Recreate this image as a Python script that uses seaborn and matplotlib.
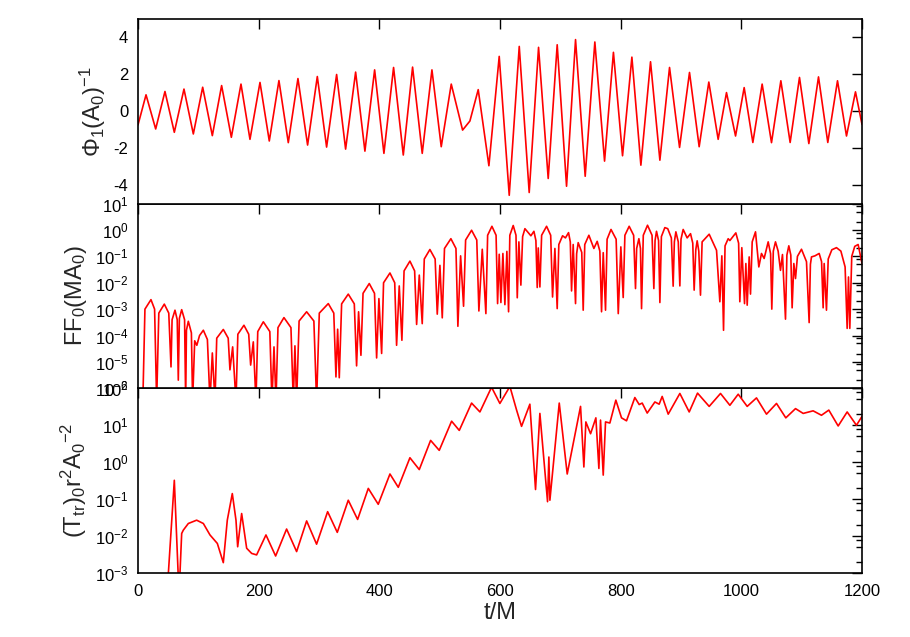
import matplotlib
matplotlib.use("Agg")
import matplotlib.pyplot as plt
import seaborn as sns
import numpy as np
from matplotlib.ticker import LogLocator, NullFormatter, FixedLocator

# Panel 1: Phi_1 (A_0)^-1, extrema
phi_t = [0, 13.3, 29.3, 44.7, 60.2, 76.2, 91.7, 107.2, 123.2, 138.6,
         154.7, 170.7, 185.6, 202.2, 217.6, 233.6, 249.1, 265.1, 281.1, 297.2,
         312.6, 329.2, 344.1, 360.7, 376.1, 392.2, 407.6, 423.6, 439.7, 455.1,
         471.1, 487.2, 502.6, 519.2, 538.0, 550.1, 563.9, 581.6, 598.7, 615.3,
         631.9, 648.4, 663.9, 679.9, 694.8, 710.3, 725.2, 741.2, 757.2, 773.3,
         788.0, 803.1, 818.6, 833.5, 849.5, 865.0, 881.0, 897.6, 914.1, 930.1,
         946.1, 961.6, 975.4, 990.4, 1004.7, 1019.1, 1034.5, 1050.0, 1065.5, 1080.9,
         1096.4, 1111.9, 1127.9, 1143.3, 1159.4, 1174.3, 1189.2, 1200]
phi_v = [-0.74, 0.89, -0.96, 1.07, -1.14, 1.20, -1.23, 1.30, -1.32, 1.39,
         -1.41, 1.47, -1.52, 1.56, -1.61, 1.66, -1.70, 1.77, -1.83, 1.88,
         -1.94, 1.99, -2.05, 2.12, -2.16, 2.24, -2.28, 2.37, -2.37, 2.39,
         -2.28, 2.24, -1.92, 1.47, -1.02, -0.53, 1.17, -2.95, 2.97, -4.55,
         3.51, -4.40, 3.46, -3.64, 3.60, -4.06, 3.88, -3.52, 3.75, -2.70,
         3.19, -2.41, 2.93, -2.92, 2.68, -2.65, 2.37, -1.96, 2.10, -1.92,
         1.58, -1.52, 1.01, -1.34, 1.28, -1.69, 1.47, -1.70, 1.65, -1.69,
         1.83, -1.75, 1.86, -1.69, 1.65, -1.34, 1.05, -0.71]

# Panel 2: FF_0 (M A_0), log10 of the value
ff_t = [8, 11.5, 21.5, 27.5, 30.9, 34.5, 43.6, 51.0, 54.7, 56.5,
        61.3, 65.0, 66.8, 68.6, 72.4, 77.2, 79.0, 80.3, 83.4, 88.5,
        90.5, 94.0, 97.5, 102.0, 108.3, 115.0, 119.3, 123.2, 127.6, 130.5,
        141.4, 149.5, 152.4, 156.9, 162.4, 165.5, 175.6, 183.5, 186.7, 191.1,
        195.5, 198.5, 207.7, 218.5, 222.0, 225.4, 228.7, 232.0, 241.9, 253.5,
        257.4, 260.1, 262.9, 267.0, 279.5, 291.5, 296.0, 300.5, 315.4, 324.5,
        328.1, 330.9, 333.6, 337.5, 348.5, 358.5, 362.3, 365.6, 369.5, 373.0,
        383.3, 392.0, 395.5, 399.3, 403.8, 407.0, 417.6, 425.5, 428.6, 433.0,
        437.4, 441.0, 450.7, 458.5, 461.8, 466.2, 471.1, 474.5, 483.8, 492.5,
        496.0, 500.4, 504.3, 508.0, 518.6, 527.0, 530.2, 534.7, 539.6, 543.0,
        552.9, 561.5, 565.0, 570.6, 576.6, 579.5, 586.6, 593.5, 596.0, 598.7,
        601.5, 604.8, 608.1, 611.4, 614.2, 616.3, 621.9, 626.5, 628.6, 631.3,
        634.6, 637.5, 641.3, 651.2, 656.2, 659.5, 661.7, 663.4, 666.1, 669.0,
        677.2, 684.0, 687.1, 691.0, 694.8, 697.5, 703.7, 708.5, 713.6, 716.5,
        718.6, 721.3, 725.2, 727.0, 729.6, 735.5, 737.9, 740.5, 747.3, 755.6,
        761.1, 765.5, 768.3, 771.1, 774.9, 777.5, 784.0, 792.5, 796.0, 800.3,
        804.2, 807.0, 814.1, 821.5, 824.6, 826.5, 830.2, 832.8, 834.6, 837.5,
        844.5, 852.0, 855.0, 857.0, 859.4, 862.8, 865.0, 867.5, 873.2, 878.0,
        884.0, 887.0, 889.0, 891.5, 895.5, 898.1, 900.0, 903.6, 910.2, 915.8,
        919.5, 921.8, 924.5, 926.8, 929.5, 932.3, 935.0, 946.7, 958.9, 964.4,
        967.7, 970.5, 973.0, 978.2, 981.0, 990.9, 995.5, 997.5, 1000.8, 1005.3,
        1007.5, 1009.7, 1013.0, 1015.2, 1018.0, 1023.5, 1029.0, 1033.4, 1037.8, 1044.5,
        1048.5, 1050.5, 1053.0, 1056.6, 1061.0, 1064.9, 1068.2, 1073.2, 1075.5, 1078.7,
        1082.0, 1084.2, 1087.0, 1089.8, 1093.0, 1099.7, 1108.0, 1112.4, 1114.5, 1116.3,
        1122.0, 1129.0, 1133.0, 1135.6, 1137.3, 1141.1, 1144.0, 1150.0, 1157.7, 1165.0,
        1172.0, 1175.4, 1177.6, 1179.8, 1183.0, 1188.0, 1193.6, 1200.0]
ff_log = [-6.5, -3.0, -2.64, -3.0, -6.5, -3.15, -2.81, -3.15, -5.19, -3.4,
          -3.04, -3.4, -5.69, -3.35, -3.02, -3.4, -6.5, -3.8, -3.46, -3.9,
          -6.5, -4.2, -4.37, -4.0, -3.80, -4.15, -6.5, -4.66, -6.5, -4.1,
          -3.77, -4.1, -5.3, -4.43, -6.5, -3.95, -3.61, -3.95, -5.12, -4.24,
          -6.5, -3.85, -3.48, -3.85, -6.5, -4.43, -6.5, -3.7, -3.32, -3.7,
          -6.5, -4.39, -6.5, -3.45, -3.10, -3.45, -6.5, -3.15, -2.79, -3.15,
          -5.57, -3.76, -5.60, -2.8, -2.43, -2.8, -5.15, -3.10, -4.75, -2.4,
          -2.03, -2.4, -4.85, -2.60, -4.68, -2.0, -1.63, -2.0, -4.37, -2.12,
          -4.18, -1.55, -1.18, -1.55, -3.58, -1.71, -3.55, -1.1, -0.74, -1.1,
          -3.19, -1.34, -3.33, -0.7, -0.33, -0.7, -3.65, -0.98, -2.89, -0.38,
          -0.01, -0.38, -3.07, -0.73, -3.17, -0.2, 0.14, -0.2, -2.79, -0.92,
          -2.75, -0.89, -2.83, -0.81, -3.10, -0.2, 0.17, -0.2, -2.57, -0.45,
          -2.09, -0.25, 0.05, -0.22, -0.05, -0.4, -2.18, -0.68, -2.16, -0.2,
          0.14, -0.2, -2.54, -0.70, -2.98, -0.55, -0.22, -0.30, -0.10, -0.45,
          -2.31, -0.55, -2.79, -0.9, -0.48, -0.85, -3.04, -0.55, -0.20, -0.70,
          -0.43, -0.8, -3.10, -0.86, -3.04, -0.35, 0.02, -0.35, -3.17, -0.64,
          -2.56, -0.2, 0.14, -0.2, -2.22, -0.7, -0.33, -0.7, -2.98, -0.2,
          0.18, -0.2, -2.22, -0.4, -0.05, -0.4, -2.75, -0.25, 0.09, 0.05,
          -0.3, -2.13, -0.45, -0.07, -0.45, -2.12, -0.35, 0.02, -0.30, -0.14,
          -0.5, -2.28, -0.75, -0.41, -0.8, -2.47, -0.45, -0.16, -0.77, -2.72,
          -0.98, -3.80, -0.6, -0.33, -0.40, -0.11, -0.5, -2.72, -0.67, -2.79,
          -1.27, -2.85, -1.02, -2.43, -0.45, -0.07, -1.40, -0.89, -1.08, -0.45,
          -0.9, -3.0, -0.8, -0.45, -0.8, -1.53, -0.93, -3.38, -0.95, -0.60,
          -0.95, -2.95, -1.27, -1.84, -1.0, -0.73, -1.2, -3.51, -1.3, -1.02,
          -0.98, -0.89, -1.2, -2.95, -1.27, -3.04, -1.1, -0.75, -0.67, -0.8,
          -1.4, -3.73, -1.78, -3.73, -1.0, -0.62, -0.55, -1.27]

# Panel 3: (T_tr)_0 r^2 A_0^-2, log10 of the value
tt_t = [48, 60.2, 68.0, 72.4, 75.1, 83.4, 97.2, 108.3, 119.3, 131.5,
        141.4, 148.0, 156.3, 162.4, 165.2, 171.8, 180.1, 188.4, 196.6, 212.1,
        228.1, 246.3, 262.9, 279.5, 296.0, 314.3, 330.3, 348.5, 364.0, 381.7,
        398.2, 417.6, 431.4, 450.7, 466.2, 485.0, 499.3, 519.8, 532.5, 552.9,
        566.7, 586.0, 599.8, 616.4, 627.5, 635.7, 649.5, 658.9, 666.1, 678.8,
        681.0, 682.7, 698.2, 711.4, 733.5, 739.0, 742.3, 750.1, 758.9, 763.9,
        766.6, 771.1, 774.9, 782.1, 792.0, 801.4, 809.7, 823.5, 830.7, 835.7,
        844.0, 856.7, 863.8, 868.8, 878.8, 898.1, 913.6, 927.4, 946.7, 965.5,
        981.0, 994.8, 1009.7, 1025.1, 1041.7, 1058.3, 1073.7, 1089.8, 1102.5, 1119.0,
        1132.8, 1145.0, 1160.5, 1175.4, 1190.8, 1200]
tt_log = [-3.6, -0.49, -3.6, -1.93, -1.84, -1.66, -1.57, -1.66, -1.97, -2.20,
          -2.72, -1.57, -0.85, -1.57, -2.29, -1.39, -2.33, -2.47, -2.51, -1.97,
          -2.54, -1.81, -2.42, -1.59, -2.22, -1.34, -1.90, -1.03, -1.55, -0.71,
          -1.14, -0.32, -0.68, 0.12, -0.20, 0.59, 0.32, 1.11, 0.86, 1.60,
          1.36, 2.03, 1.59, 2.05, 1.41, 0.97, 1.57, -0.74, 1.32, -1.07,
          0.14, -1.03, 1.60, -0.32, 1.51, -0.13, 1.09, 0.77, 1.20, -0.17,
          1.14, -0.35, 1.09, 1.06, 1.68, 1.20, 1.12, 1.75, 1.56, 1.60,
          1.33, 1.63, 1.57, 1.78, 1.30, 1.86, 1.36, 1.87, 1.51, 1.86,
          1.54, 1.84, 1.51, 1.74, 1.30, 1.59, 1.20, 1.45, 1.32, 1.39,
          1.27, 1.41, 0.98, 1.36, 1.00, 1.24]

x_ticks = [0, 200, 400, 600, 800, 1000, 1200]

sns.set_style("white")
plt.rcParams["font.family"] = ["Liberation Sans", "DejaVu Sans"]
plt.rcParams["mathtext.default"] = "regular"
plt.rcParams["axes.unicode_minus"] = False

fig = plt.figure(figsize=(9.1, 6.37), dpi=100)
left, width = 138 / 910, 724 / 910
h = 184.7 / 637
b0 = 1 - 573 / 637
ax_tt = fig.add_axes([left, b0, width, h])
ax_ff = fig.add_axes([left, b0 + h, width, h])
ax_phi = fig.add_axes([left, b0 + 2 * h, width, h])

red = "#ff0000"
sns.lineplot(x=phi_t, y=phi_v, ax=ax_phi, color=red, lw=1.2, sort=False, estimator=None)

ax_ff.set_yscale("log")
sns.lineplot(x=ff_t, y=10.0 ** np.array(ff_log), ax=ax_ff, color=red, lw=1.2,
             sort=False, estimator=None)

ax_tt.set_yscale("log")
sns.lineplot(x=tt_t, y=10.0 ** np.array(tt_log), ax=ax_tt, color=red, lw=1.2,
             sort=False, estimator=None)

ax_phi.set_ylim(-5, 5)
ax_phi.set_yticks([-4, -2, 0, 2, 4])
ax_ff.set_ylim(1e-6, 1e1)
ax_tt.set_ylim(1e-3, 1e2)

for ax in (ax_phi, ax_ff, ax_tt):
    ax.set_xlim(0, 1200)
    ax.xaxis.set_major_locator(FixedLocator(x_ticks))
    ax.tick_params(which="both", direction="in", top=True, right=True,
                   labelsize=12, colors="black")
    ax.tick_params(axis="x", pad=8)
    ax.tick_params(axis="y", pad=7)
    ax.tick_params(which="major", length=7, width=1)
    ax.tick_params(which="minor", length=4, width=1)
    for s in ax.spines.values():
        s.set_color("black")
        s.set_linewidth(1.2)
    ax.set_xlabel("")

for ax in (ax_ff, ax_tt):
    ax.yaxis.set_major_locator(LogLocator(base=10, subs=(1.0,), numticks=20))
    ax.yaxis.set_minor_locator(LogLocator(base=10, subs=(2.0, 5.0, 8.0), numticks=20))
    ax.yaxis.set_minor_formatter(NullFormatter())

ax_phi.tick_params(labelbottom=False)
ax_ff.tick_params(labelbottom=False)

ax_phi.set_ylabel("Φ$_1$(A$_0$)$^{-1}$", fontsize=17)
ax_ff.set_ylabel("FF$_0$(MA$_0$)", fontsize=17)
ax_tt.set_ylabel("(T$_{tr}$)$_0$r$^2$A$_0$$^{-2}$", fontsize=17)
ax_tt.set_xlabel("t/M", fontsize=17, labelpad=2)

fig.savefig("out.png", dpi=100)
